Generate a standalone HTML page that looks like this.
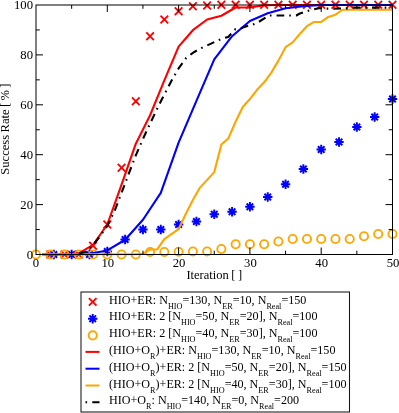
<!DOCTYPE html>
<html><head><meta charset="utf-8"><title>plot</title>
<style>
html,body{margin:0;padding:0;background:#fff;}
svg{display:block;will-change:transform;}
text{font-family:"Liberation Serif",serif;fill:#000;}
</style></head><body>
<svg width="399" height="413" viewBox="0 0 399 413">
<rect x="0" y="0" width="399" height="413" fill="#ffffff"/>

<g stroke="#ff0000">
<path d="M46.46,250.70 L54.06,258.30 M46.46,258.30 L54.06,250.70" stroke-width="1.9" fill="none"/>
<path d="M60.72,250.70 L68.32,258.30 M60.72,258.30 L68.32,250.70" stroke-width="1.9" fill="none"/>
<path d="M74.98,250.70 L82.58,258.30 M74.98,258.30 L82.58,250.70" stroke-width="1.9" fill="none"/>
<path d="M89.24,241.95 L96.84,249.55 M89.24,249.55 L96.84,241.95" stroke-width="1.9" fill="none"/>
<path d="M103.50,220.70 L111.10,228.30 M103.50,228.30 L111.10,220.70" stroke-width="1.9" fill="none"/>
<path d="M117.76,163.95 L125.36,171.55 M117.76,171.55 L125.36,163.95" stroke-width="1.9" fill="none"/>
<path d="M132.02,97.45 L139.62,105.05 M132.02,105.05 L139.62,97.45" stroke-width="1.9" fill="none"/>
<path d="M146.28,32.45 L153.88,40.05 M146.28,40.05 L153.88,32.45" stroke-width="1.9" fill="none"/>
<path d="M160.54,15.70 L168.14,23.30 M160.54,23.30 L168.14,15.70" stroke-width="1.9" fill="none"/>
<path d="M174.80,7.45 L182.40,15.05 M174.80,15.05 L182.40,7.45" stroke-width="1.9" fill="none"/>
<path d="M189.06,2.45 L196.66,10.05 M189.06,10.05 L196.66,2.45" stroke-width="1.9" fill="none"/>
<path d="M203.32,1.70 L210.92,9.30 M203.32,9.30 L210.92,1.70" stroke-width="1.9" fill="none"/>
<path d="M217.58,0.95 L225.18,8.55 M217.58,8.55 L225.18,0.95" stroke-width="1.9" fill="none"/>
<path d="M231.84,0.95 L239.44,8.55 M231.84,8.55 L239.44,0.95" stroke-width="1.9" fill="none"/>
<path d="M246.10,0.95 L253.70,8.55 M246.10,8.55 L253.70,0.95" stroke-width="1.9" fill="none"/>
<path d="M260.36,0.95 L267.96,8.55 M260.36,8.55 L267.96,0.95" stroke-width="1.9" fill="none"/>
<path d="M274.62,0.95 L282.22,8.55 M274.62,8.55 L282.22,0.95" stroke-width="1.9" fill="none"/>
<path d="M288.88,0.95 L296.48,8.55 M288.88,8.55 L296.48,0.95" stroke-width="1.9" fill="none"/>
<path d="M303.14,0.95 L310.74,8.55 M303.14,8.55 L310.74,0.95" stroke-width="1.9" fill="none"/>
<path d="M317.40,0.95 L325.00,8.55 M317.40,8.55 L325.00,0.95" stroke-width="1.9" fill="none"/>
<path d="M331.66,0.95 L339.26,8.55 M331.66,8.55 L339.26,0.95" stroke-width="1.9" fill="none"/>
<path d="M345.92,0.95 L353.52,8.55 M345.92,8.55 L353.52,0.95" stroke-width="1.9" fill="none"/>
<path d="M360.18,0.95 L367.78,8.55 M360.18,8.55 L367.78,0.95" stroke-width="1.9" fill="none"/>
<path d="M374.44,0.95 L382.04,8.55 M374.44,8.55 L382.04,0.95" stroke-width="1.9" fill="none"/>
<path d="M388.70,0.95 L396.30,8.55 M388.70,8.55 L396.30,0.95" stroke-width="1.9" fill="none"/>
</g>
<g stroke="#0000ff">
<path d="M53.83,249.80 L53.83,259.20 M49.12,254.50 L58.53,254.50 M50.53,251.20 L57.12,257.80 M50.53,257.80 L57.12,251.20" stroke-width="1.95" fill="none"/>
<path d="M71.65,249.80 L71.65,259.20 M66.95,254.50 L76.35,254.50 M68.35,251.20 L74.95,257.80 M68.35,257.80 L74.95,251.20" stroke-width="1.95" fill="none"/>
<path d="M89.47,249.80 L89.47,259.20 M84.77,254.50 L94.17,254.50 M86.17,251.20 L92.77,257.80 M86.17,257.80 L92.77,251.20" stroke-width="1.95" fill="none"/>
<path d="M107.30,246.80 L107.30,256.20 M102.60,251.50 L112.00,251.50 M104.00,248.20 L110.60,254.80 M104.00,254.80 L110.60,248.20" stroke-width="1.95" fill="none"/>
<path d="M125.12,234.80 L125.12,244.20 M120.42,239.50 L129.82,239.50 M121.83,236.20 L128.43,242.80 M121.83,242.80 L128.43,236.20" stroke-width="1.95" fill="none"/>
<path d="M142.95,224.80 L142.95,234.20 M138.25,229.50 L147.65,229.50 M139.65,226.20 L146.25,232.80 M139.65,232.80 L146.25,226.20" stroke-width="1.95" fill="none"/>
<path d="M160.78,224.80 L160.78,234.20 M156.08,229.50 L165.47,229.50 M157.47,226.20 L164.08,232.80 M157.47,232.80 L164.08,226.20" stroke-width="1.95" fill="none"/>
<path d="M178.60,219.80 L178.60,229.20 M173.90,224.50 L183.30,224.50 M175.30,221.20 L181.90,227.80 M175.30,227.80 L181.90,221.20" stroke-width="1.95" fill="none"/>
<path d="M196.43,216.80 L196.43,226.20 M191.73,221.50 L201.12,221.50 M193.12,218.20 L199.73,224.80 M193.12,224.80 L199.73,218.20" stroke-width="1.95" fill="none"/>
<path d="M214.25,209.55 L214.25,218.95 M209.55,214.25 L218.95,214.25 M210.95,210.95 L217.55,217.55 M210.95,217.55 L217.55,210.95" stroke-width="1.95" fill="none"/>
<path d="M232.07,207.05 L232.07,216.45 M227.38,211.75 L236.77,211.75 M228.77,208.45 L235.38,215.05 M228.77,215.05 L235.38,208.45" stroke-width="1.95" fill="none"/>
<path d="M249.90,202.05 L249.90,211.45 M245.20,206.75 L254.60,206.75 M246.60,203.45 L253.20,210.05 M246.60,210.05 L253.20,203.45" stroke-width="1.95" fill="none"/>
<path d="M267.73,192.30 L267.73,201.70 M263.03,197.00 L272.43,197.00 M264.43,193.70 L271.03,200.30 M264.43,200.30 L271.03,193.70" stroke-width="1.95" fill="none"/>
<path d="M285.55,179.55 L285.55,188.95 M280.85,184.25 L290.25,184.25 M282.25,180.95 L288.85,187.55 M282.25,187.55 L288.85,180.95" stroke-width="1.95" fill="none"/>
<path d="M303.38,164.30 L303.38,173.70 M298.68,169.00 L308.07,169.00 M300.07,165.70 L306.68,172.30 M300.07,172.30 L306.68,165.70" stroke-width="1.95" fill="none"/>
<path d="M321.20,144.80 L321.20,154.20 M316.50,149.50 L325.90,149.50 M317.90,146.20 L324.50,152.80 M317.90,152.80 L324.50,146.20" stroke-width="1.95" fill="none"/>
<path d="M339.02,137.30 L339.02,146.70 M334.32,142.00 L343.72,142.00 M335.72,138.70 L342.32,145.30 M335.72,145.30 L342.32,138.70" stroke-width="1.95" fill="none"/>
<path d="M356.85,122.30 L356.85,131.70 M352.15,127.00 L361.55,127.00 M353.55,123.70 L360.15,130.30 M353.55,130.30 L360.15,123.70" stroke-width="1.95" fill="none"/>
<path d="M374.68,112.30 L374.68,121.70 M369.98,117.00 L379.38,117.00 M371.38,113.70 L377.98,120.30 M371.38,120.30 L377.98,113.70" stroke-width="1.95" fill="none"/>
<path d="M392.50,94.30 L392.50,103.70 M387.80,99.00 L397.20,99.00 M389.20,95.70 L395.80,102.30 M389.20,102.30 L395.80,95.70" stroke-width="1.95" fill="none"/>
</g>
<g stroke="#ffa500">
<circle cx="36.00" cy="254.50" r="4.1" stroke-width="1.9" fill="none"/>
<circle cx="50.26" cy="254.50" r="4.1" stroke-width="1.9" fill="none"/>
<circle cx="64.52" cy="254.50" r="4.1" stroke-width="1.9" fill="none"/>
<circle cx="78.78" cy="254.50" r="4.1" stroke-width="1.9" fill="none"/>
<circle cx="93.04" cy="254.50" r="4.1" stroke-width="1.9" fill="none"/>
<circle cx="107.30" cy="254.50" r="4.1" stroke-width="1.9" fill="none"/>
<circle cx="121.56" cy="254.50" r="4.1" stroke-width="1.9" fill="none"/>
<circle cx="135.82" cy="254.50" r="4.1" stroke-width="1.9" fill="none"/>
<circle cx="150.08" cy="252.00" r="4.1" stroke-width="1.9" fill="none"/>
<circle cx="164.34" cy="252.00" r="4.1" stroke-width="1.9" fill="none"/>
<circle cx="178.60" cy="251.75" r="4.1" stroke-width="1.9" fill="none"/>
<circle cx="192.86" cy="251.50" r="4.1" stroke-width="1.9" fill="none"/>
<circle cx="207.12" cy="251.50" r="4.1" stroke-width="1.9" fill="none"/>
<circle cx="221.38" cy="249.00" r="4.1" stroke-width="1.9" fill="none"/>
<circle cx="235.64" cy="244.25" r="4.1" stroke-width="1.9" fill="none"/>
<circle cx="249.90" cy="244.25" r="4.1" stroke-width="1.9" fill="none"/>
<circle cx="264.16" cy="244.25" r="4.1" stroke-width="1.9" fill="none"/>
<circle cx="278.42" cy="241.50" r="4.1" stroke-width="1.9" fill="none"/>
<circle cx="292.68" cy="239.00" r="4.1" stroke-width="1.9" fill="none"/>
<circle cx="306.94" cy="239.00" r="4.1" stroke-width="1.9" fill="none"/>
<circle cx="321.20" cy="239.00" r="4.1" stroke-width="1.9" fill="none"/>
<circle cx="335.46" cy="239.00" r="4.1" stroke-width="1.9" fill="none"/>
<circle cx="349.72" cy="239.00" r="4.1" stroke-width="1.9" fill="none"/>
<circle cx="363.98" cy="236.25" r="4.1" stroke-width="1.9" fill="none"/>
<circle cx="378.24" cy="234.00" r="4.1" stroke-width="1.9" fill="none"/>
<circle cx="392.50" cy="234.00" r="4.1" stroke-width="1.9" fill="none"/>
</g>
<polyline points="42.06,254.20 50.26,254.20 64.52,254.20 78.78,253.45 93.04,244.97 107.30,224.52 121.56,184.60 135.82,143.69 150.08,115.26 164.34,80.33 178.60,46.66 192.86,30.19 207.12,19.47 221.38,15.73 235.64,7.49 249.90,7.49 264.16,5.25 278.42,5.00 392.50,5.00" fill="none" stroke="#ff0000" stroke-width="2.1" stroke-linejoin="round" />
<polyline points="42.06,254.20 71.65,254.20 89.47,253.70 107.30,250.46 125.12,239.73 142.95,219.78 160.78,192.84 178.60,142.70 196.43,100.79 214.25,59.38 232.07,36.18 249.90,20.96 267.73,13.23 285.55,8.24 303.38,6.25 321.20,5.00 392.50,5.00" fill="none" stroke="#0000ff" stroke-width="2.1" stroke-linejoin="round" />
<polyline points="42.06,254.20 135.82,254.20 142.95,253.70 150.08,249.46 157.21,249.46 164.34,239.11 171.47,234.12 178.60,229.11 185.73,214.04 192.86,200.07 199.99,187.60 207.12,179.86 214.25,172.13 221.38,144.44 228.51,138.21 235.64,121.49 242.77,107.02 249.90,99.04 257.03,89.81 264.16,82.33 271.29,72.60 278.42,60.63 285.55,47.16 292.68,42.42 299.81,33.94 306.94,26.20 314.07,21.96 321.20,21.96 328.33,16.97 335.46,14.73 342.59,9.74 392.50,9.74" fill="none" stroke="#ffa500" stroke-width="2.1" stroke-linejoin="round" />
<polyline points="75.93,254.20 78.78,253.45 85.91,251.71 93.04,245.22 100.17,235.99 107.30,226.01 114.43,211.29 121.56,192.84 128.69,173.88 135.82,155.42 142.95,138.95 150.08,123.49 157.21,108.77 161.49,100.04 164.34,94.55 172.04,79.83 178.60,68.36 186.02,58.13 192.86,52.89 199.99,48.65 207.83,45.16 214.25,42.17 221.38,38.92 228.15,36.93 235.28,29.20 239.92,28.45 248.12,25.70 252.04,24.96 257.03,22.96 269.15,15.48 296.25,15.48 299.81,13.48 308.37,10.74 319.77,7.99 326.19,8.62 346.87,8.49 353.29,7.62 392.50,7.62" fill="none" stroke="#000000" stroke-width="2.1" stroke-linejoin="round" stroke-dasharray="7.7 5 1.6 5.06" stroke-dashoffset="16.4"/>
<rect x="36.0" y="5.0" width="356.5" height="249.5" fill="none" stroke="#000" stroke-width="1"/>
<path d="M71.65,254.5 v-3.8 M71.65,5.0 v3.8 M107.30,254.5 v-7 M107.30,5.0 v7 M142.95,254.5 v-3.8 M142.95,5.0 v3.8 M178.60,254.5 v-7 M178.60,5.0 v7 M214.25,254.5 v-3.8 M214.25,5.0 v3.8 M249.90,254.5 v-7 M249.90,5.0 v7 M285.55,254.5 v-3.8 M285.55,5.0 v3.8 M321.20,254.5 v-7 M321.20,5.0 v7 M356.85,254.5 v-3.8 M356.85,5.0 v3.8 M36.0,229.55 h3.8 M392.5,229.55 h-3.8 M36.0,204.60 h7 M392.5,204.60 h-7 M36.0,179.65 h3.8 M392.5,179.65 h-3.8 M36.0,154.70 h7 M392.5,154.70 h-7 M36.0,129.75 h3.8 M392.5,129.75 h-3.8 M36.0,104.80 h7 M392.5,104.80 h-7 M36.0,79.85 h3.8 M392.5,79.85 h-3.8 M36.0,54.90 h7 M392.5,54.90 h-7 M36.0,29.95 h3.8 M392.5,29.95 h-3.8" stroke="#000" stroke-width="1" fill="none"/>
<text x="36.00" y="266.7" font-size="12.7" text-anchor="middle">0</text>
<text x="107.80" y="266.7" font-size="12.7" text-anchor="middle">10</text>
<text x="179.10" y="266.7" font-size="12.7" text-anchor="middle">20</text>
<text x="250.40" y="266.7" font-size="12.7" text-anchor="middle">30</text>
<text x="321.70" y="266.7" font-size="12.7" text-anchor="middle">40</text>
<text x="393.00" y="266.7" font-size="12.7" text-anchor="middle">50</text>
<text x="33" y="258.60" font-size="12.7" text-anchor="end">0</text>
<text x="33" y="208.70" font-size="12.7" text-anchor="end">20</text>
<text x="33" y="158.80" font-size="12.7" text-anchor="end">40</text>
<text x="33" y="108.90" font-size="12.7" text-anchor="end">60</text>
<text x="33" y="59.00" font-size="12.7" text-anchor="end">80</text>
<text x="33" y="9.10" font-size="12.7" text-anchor="end">100</text>
<text x="214.3" y="278.8" font-size="12.5" word-spacing="-0.6" text-anchor="middle">Iteration [ ]</text>
<text transform="translate(8.7,129.1) rotate(-90)" font-size="12.6" word-spacing="-0.8" text-anchor="middle">Success Rate [ % ]</text>
<rect x="81" y="292" width="268.5" height="120" fill="#fff" stroke="#151515" stroke-width="1.05"/>
<text x="109" y="303.50" font-size="12.1">HIO+ER: N<tspan dy="5" font-size="8.2">HIO</tspan><tspan dy="-5" font-size="12.1">=130, N</tspan><tspan dy="5" font-size="8.2">ER</tspan><tspan dy="-5" font-size="12.1">=10, N</tspan><tspan dy="5" font-size="8.2">Real</tspan><tspan dy="-5" font-size="12.1">=150</tspan></text>
<text x="109" y="320.30" font-size="12.1">HIO+ER: 2 [N<tspan dy="5" font-size="8.2">HIO</tspan><tspan dy="-5" font-size="12.1">=50, N</tspan><tspan dy="5" font-size="8.2">ER</tspan><tspan dy="-5" font-size="12.1">=20], N</tspan><tspan dy="5" font-size="8.2">Real</tspan><tspan dy="-5" font-size="12.1">=100</tspan></text>
<text x="109" y="337.10" font-size="12.1">HIO+ER: 2 [N<tspan dy="5" font-size="8.2">HIO</tspan><tspan dy="-5" font-size="12.1">=40, N</tspan><tspan dy="5" font-size="8.2">ER</tspan><tspan dy="-5" font-size="12.1">=30], N</tspan><tspan dy="5" font-size="8.2">Real</tspan><tspan dy="-5" font-size="12.1">=100</tspan></text>
<text x="109" y="353.90" font-size="12.1">(HIO+O<tspan dy="5" font-size="8.2">R</tspan><tspan dy="-5" font-size="12.1">)+ER: N</tspan><tspan dy="5" font-size="8.2">HIO</tspan><tspan dy="-5" font-size="12.1">=130, N</tspan><tspan dy="5" font-size="8.2">ER</tspan><tspan dy="-5" font-size="12.1">=10, N</tspan><tspan dy="5" font-size="8.2">Real</tspan><tspan dy="-5" font-size="12.1">=150</tspan></text>
<text x="109" y="370.70" font-size="12.1">(HIO+O<tspan dy="5" font-size="8.2">R</tspan><tspan dy="-5" font-size="12.1">)+ER: 2 [N</tspan><tspan dy="5" font-size="8.2">HIO</tspan><tspan dy="-5" font-size="12.1">=50, N</tspan><tspan dy="5" font-size="8.2">ER</tspan><tspan dy="-5" font-size="12.1">=20], N</tspan><tspan dy="5" font-size="8.2">Real</tspan><tspan dy="-5" font-size="12.1">=150</tspan></text>
<text x="109" y="387.50" font-size="12.1">(HIO+O<tspan dy="5" font-size="8.2">R</tspan><tspan dy="-5" font-size="12.1">)+ER: 2 [N</tspan><tspan dy="5" font-size="8.2">HIO</tspan><tspan dy="-5" font-size="12.1">=40, N</tspan><tspan dy="5" font-size="8.2">ER</tspan><tspan dy="-5" font-size="12.1">=30], N</tspan><tspan dy="5" font-size="8.2">Real</tspan><tspan dy="-5" font-size="12.1">=100</tspan></text>
<text x="109" y="404.30" font-size="12.1">HIO+O<tspan dy="5" font-size="8.2">R</tspan><tspan dy="-5" font-size="12.1">: N</tspan><tspan dy="5" font-size="8.2">HIO</tspan><tspan dy="-5" font-size="12.1">=140, N</tspan><tspan dy="5" font-size="8.2">ER</tspan><tspan dy="-5" font-size="12.1">=0, N</tspan><tspan dy="5" font-size="8.2">Real</tspan><tspan dy="-5" font-size="12.1">=200</tspan></text>
<path d="M88.90,298.10 L96.50,305.70 M88.90,305.70 L96.50,298.10" stroke-width="1.9" fill="none" stroke="#ff0000"/>
<path d="M92.70,314.00 L92.70,323.40 M88.00,318.70 L97.40,318.70 M89.40,315.40 L96.00,322.00 M89.40,322.00 L96.00,315.40" stroke-width="1.95" fill="none" stroke="#0000ff"/>
<circle cx="92.70" cy="335.40" r="4.1" stroke-width="1.9" fill="none" stroke="#ffa500"/>
<line x1="85.5" x2="99.5" y1="351.90" y2="351.90" stroke="#ff0000" stroke-width="2"/>
<line x1="85.5" x2="99.5" y1="368.70" y2="368.70" stroke="#0000ff" stroke-width="2"/>
<line x1="85.5" x2="99.5" y1="385.50" y2="385.50" stroke="#ffa500" stroke-width="2"/>
<line x1="85.5" x2="99.5" y1="402.20" y2="402.20" stroke="#000000" stroke-width="2" stroke-dasharray="1.6 5.2 7.6 4"/>
</svg></body></html>
